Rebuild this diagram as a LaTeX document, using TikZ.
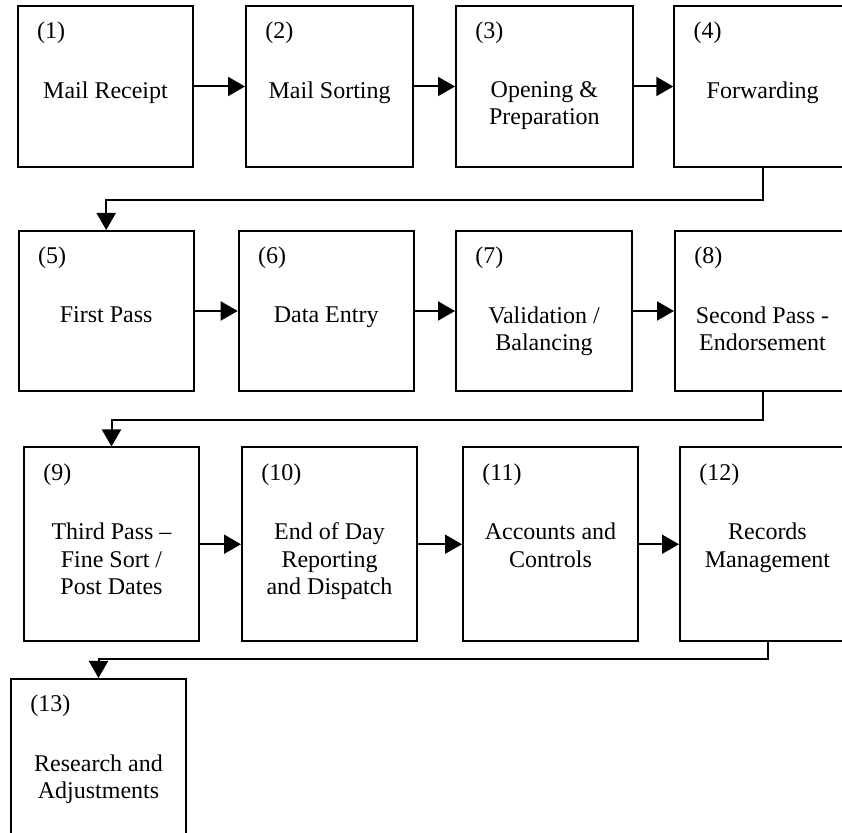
\documentclass[tikz,border=0pt]{standalone}
\usepackage{fontspec}
\setmainfont{Liberation Serif}
\usetikzlibrary{positioning, arrows.meta, calc}

\begin{document}
\begin{tikzpicture}[x=0.5pt, y=-0.5pt, font=\fontsize{12}{13.8}\selectfont]

\useasboundingbox (0,0) rectangle (842,833);
\clip (0,0) rectangle (842,833);

\tikzset{
  stepbox/.style={draw, line width=1pt, minimum width=87.5pt,
                  minimum height=80pt, inner sep=0pt, anchor=north west},
  tallbox/.style={stepbox, minimum height=96.75pt},
  numtag/.style={anchor=base west, inner sep=0pt},
  steptext/.style={anchor=north, inner sep=0pt, align=center},
  flow/.style={-{Triangle[length=8.5pt, width=9.5pt]}, line width=1pt}
}

% row 1
\node[stepbox, minimum height=80.5pt, minimum width=87.8pt] (b1) at (16.7,5)  {};
\node[stepbox, minimum height=80.5pt, minimum width=83.6pt] (b2) at (245,5)   {};
\node[stepbox, minimum height=80.5pt, minimum width=88.4pt] (b3) at (455,5)   {};
\node[stepbox, minimum height=80.5pt, minimum width=88.4pt] (b4) at (673.3,5) {};

% row 2
\node[stepbox] (b5) at (17.7,230)  {};
\node[stepbox] (b6) at (237.7,230) {};
\node[stepbox, minimum width=88pt] (b7) at (455,230)   {};
\node[stepbox] (b8) at (674,230)   {};

% row 3
\node[tallbox] (b9)  at (23,446.5)  {};
\node[tallbox] (b10) at (241,446.5) {};
\node[tallbox] (b11) at (462,446.5) {};
\node[tallbox] (b12) at (679,446.5) {};

% row 4
\node[tallbox] (b13) at (10,678) {};

% numbers
\foreach \i in {1,...,13}
  \node[numtag] (n\i) at ([shift={(10pt,-17pt)}]b\i.north west) {(\i)};

% step names
\node[steptext] (t1)  at ([yshift=-38pt]b1.north)  {Mail Receipt};
\node[steptext] (t2)  at ([yshift=-38pt]b2.north)  {Mail Sorting};
\node[steptext] (t3)  at ([yshift=-38pt]b3.north)  {Opening \&\\Preparation};
\node[steptext] (t4)  at ([yshift=-38pt]b4.north)  {Forwarding};
\node[steptext] (t5)  at ([yshift=-38pt]b5.north)  {First Pass};
\node[steptext] (t6)  at ([yshift=-38pt]b6.north)  {Data Entry};
\node[steptext] (t7)  at ([yshift=-38pt]b7.north)  {Validation /\\Balancing};
\node[steptext] (t8)  at ([yshift=-38pt]b8.north)  {Second Pass -\\Endorsement};
\node[steptext] (t9)  at ([yshift=-38pt]b9.north)  {Third Pass --\\Fine Sort /\\Post Dates};
\node[steptext] (t10) at ([yshift=-38pt]b10.north) {End of Day\\Reporting\\and Dispatch};
\node[steptext] (t11) at ([yshift=-38pt]b11.north) {Accounts and\\Controls};
\node[steptext] (t12) at ([yshift=-38pt]b12.north) {Records\\Management};
\node[steptext] (t13) at ([yshift=-38pt]b13.north) {Research and\\Adjustments};

% flow
\draw[flow] (b1) -- (b2);
\draw[flow] (b2) -- (b3);
\draw[flow] (b3) -- (b4);
\draw[flow] (b4.south) -- ++(0,32) -| (b5.north);
\draw[flow] (b5) -- (b6);
\draw[flow] (b6) -- (b7);
\draw[flow] (b7) -- (b8);
\draw[flow] (b8.south) -- ++(0,28) -| (b9.north);
\draw[flow] (b9) -- (b10);
\draw[flow] (b10) -- (b11);
\draw[flow] (b11) -- (b12);
\draw[flow] (b12.south) -- ++(0,17) -| (b13.north);

\end{tikzpicture}
\end{document}
